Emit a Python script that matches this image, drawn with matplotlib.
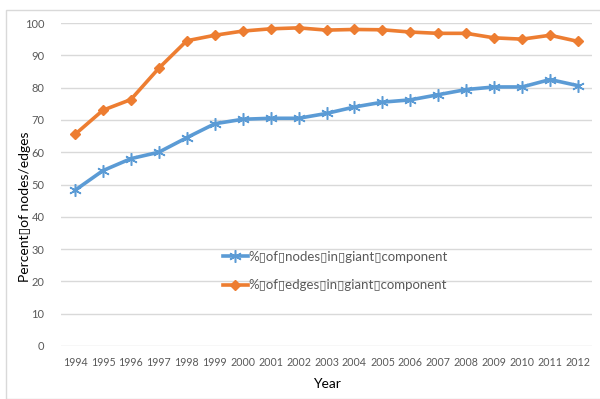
import matplotlib
matplotlib.use("Agg")
import matplotlib.pyplot as plt
from matplotlib.patches import Rectangle
from matplotlib.lines import Line2D

years = [str(y) for y in range(1994, 2013)]
nodes_pct = [48.2, 54.3, 58.0, 60.0, 64.5, 68.8, 70.2, 70.5, 70.5, 72.0,
             74.0, 75.5, 76.2, 77.8, 79.4, 80.2, 80.2, 82.5, 80.6]
edges_pct = [65.5, 73.0, 76.3, 86.0, 94.5, 96.2, 97.5, 98.2, 98.5, 97.8,
             98.0, 97.9, 97.2, 96.8, 96.8, 95.4, 95.0, 96.2, 94.3]
y_ticks = [0, 10, 20, 30, 40, 50, 60, 70, 80, 90, 100]

BOX = "\u25af"
nodes_label = f"%{BOX}of{BOX}nodes{BOX}in{BOX}giant{BOX}component"
edges_label = f"%{BOX}of{BOX}edges{BOX}in{BOX}giant{BOX}component"

FONT = ["Lato", "DejaVu Sans"]
plt.rcParams["font.family"] = FONT

BLUE = "#5B9BD5"
ORANGE = "#ED7D31"
GRID = "#D9D9D9"
TICK = "#595959"

fig = plt.figure(figsize=(6.0, 3.99), dpi=100)
W, H = 600, 399

# chart area border
fig.patches.append(Rectangle((6 / W, 0), 1.2, 1 - 10 / H, transform=fig.transFigure,
                             fill=False, edgecolor="#D9D9D9", linewidth=1.0))

ax = fig.add_axes([61 / W, 1 - 346 / H, (592 - 61) / W, (346 - 23) / H])
x = list(range(len(years)))

ax.plot(x, nodes_pct, color=BLUE, linewidth=2.6, marker=(6, 2, 0), markersize=9,
        markeredgewidth=1.1, markeredgecolor=BLUE, solid_joinstyle="round",
        label=nodes_label, zorder=3)
ax.plot(x, edges_pct, color=ORANGE, linewidth=2.6, marker="D", markersize=5.5,
        markeredgecolor=ORANGE, markerfacecolor=ORANGE, solid_joinstyle="round",
        label=edges_label, zorder=3)

ax.set_xlim(-0.5, len(years) - 0.5)
ax.set_ylim(0, 100)
ax.set_yticks(y_ticks)
ax.set_xticks(x)
ax.set_xticklabels(years)
ax.grid(axis="y", color=GRID, linewidth=1.0)
ax.set_axisbelow(True)
for s in ax.spines.values():
    s.set_visible(False)
ax.tick_params(axis="both", length=0, colors=TICK, labelsize=7.7)
ax.tick_params(axis="x", pad=8)
ax.tick_params(axis="y", pad=12, labelsize=8)

ax.set_xlabel("Year", fontsize=10, color="#000000", labelpad=7)
fig.text(25 / W, 1 - 207 / H, f"Percent{BOX}of nodes/edges", rotation=90,
         fontsize=10, color="#000000", ha="center", va="center")

handles = [Line2D([], [], color=BLUE, linewidth=2.6, marker=(6, 2, 0), markersize=9,
                  markeredgewidth=1.1),
           Line2D([], [], color=ORANGE, linewidth=2.6, marker="D", markersize=5.5)]
leg = ax.legend(handles, [nodes_label, edges_label], loc="center left",
                bbox_to_anchor=((216 - 61) / (592 - 61), (346 - 271) / (346 - 23)),
                frameon=False, fontsize=9.5, handlelength=1.9, handletextpad=0.05,
                labelspacing=1.25, borderpad=0, labelcolor=TICK)

fig.savefig("out.png", dpi=100)
